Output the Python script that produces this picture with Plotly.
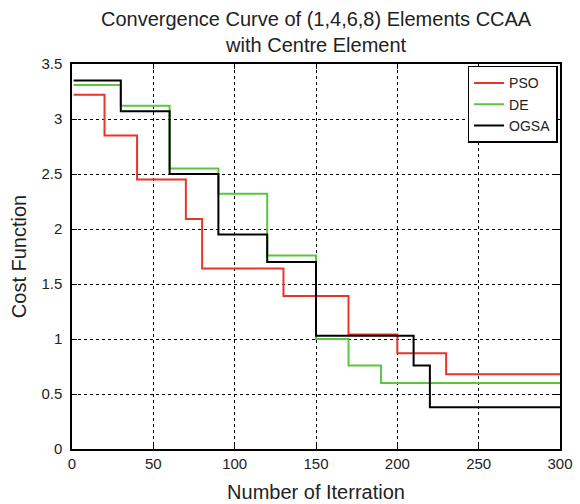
import plotly.graph_objects as go

# Iteration breakpoints and cost values (step curves)
pso_x = [1, 20, 40, 70, 80, 130, 170, 200, 230, 300]
pso_y = [3.22, 2.85, 2.45, 2.09, 1.64, 1.39, 1.04, 0.87, 0.68, 0.68]

de_x = [1, 30, 60, 90, 120, 150, 170, 190, 300]
de_y = [3.31, 3.12, 2.55, 2.32, 1.76, 1.00, 0.76, 0.60, 0.60]

ogsa_x = [1, 30, 60, 90, 120, 150, 210, 220, 300]
ogsa_y = [3.35, 3.07, 2.50, 1.95, 1.70, 1.03, 0.76, 0.38, 0.38]

x_ticks = [0, 50, 100, 150, 200, 250, 300]
y_ticks = [0, 0.5, 1, 1.5, 2, 2.5, 3, 3.5]
y_tick_text = ["0", "0.5", "1", "1.5", "2", "2.5", "3", "3.5"]

title_text = "Convergence Curve of (1,4,6,8) Elements CCAA<br>with Centre Element"

fig = go.Figure()
fig.add_trace(go.Scatter(x=pso_x, y=pso_y, mode="lines", name="PSO",
                         line=dict(color="#e8352b", width=2, shape="hv")))
fig.add_trace(go.Scatter(x=de_x, y=de_y, mode="lines", name="DE",
                         line=dict(color="#5cc540", width=2, shape="hv")))
fig.add_trace(go.Scatter(x=ogsa_x, y=ogsa_y, mode="lines", name="OGSA",
                         line=dict(color="#000000", width=2, shape="hv")))

axis_common = dict(
    showline=True, linecolor="black", linewidth=1.5, mirror="ticks",
    ticks="inside", ticklen=5, tickcolor="black",
    showgrid=True, gridcolor="black", griddash="dot", gridwidth=1,
    zeroline=False, tickfont=dict(size=15, color="#222"), automargin=False,
)

fig.update_xaxes(range=[0, 300], tickvals=x_ticks,
                 title=dict(text="Number of Iterration", font=dict(size=20, color="#222"), standoff=14),
                 **axis_common)
fig.update_yaxes(range=[0, 3.5], tickvals=y_ticks, ticktext=y_tick_text,
                 ticklabelstandoff=5,
                 title=dict(text="Cost Function", font=dict(size=20, color="#222"), standoff=9),
                 **axis_common)

fig.add_annotation(text=title_text, xref="paper", yref="paper", x=0.5, y=1,
                   xanchor="center", yanchor="bottom", yshift=6, showarrow=False,
                   font=dict(size=20, color="#222"), align="center")

fig.update_layout(
    width=580, height=504,
    margin=dict(l=72, r=20, t=64, b=55, autoexpand=False),
    paper_bgcolor="white", plot_bgcolor="white",
    font=dict(family="Liberation Sans, Arial, sans-serif", color="#222"),
    legend=dict(x=0.995, y=0.995, xanchor="right", yanchor="top",
                bgcolor="white", bordercolor="black", borderwidth=1.5,
                font=dict(size=14, color="#222"), tracegroupgap=0),
    showlegend=True,
)

fig.write_html("out.html")
